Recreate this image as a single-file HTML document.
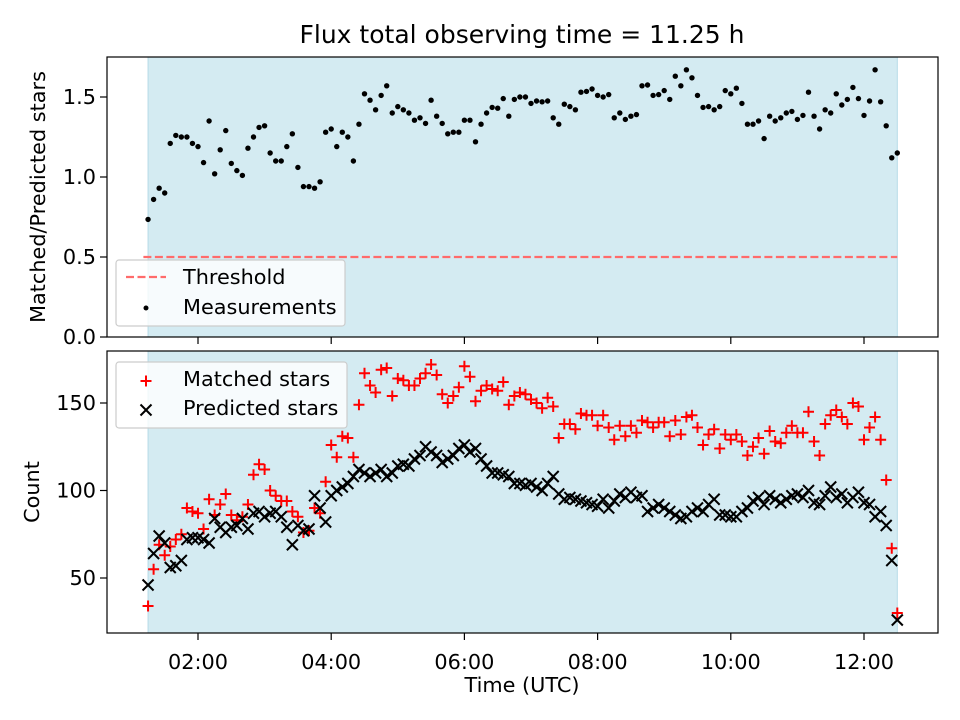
<!DOCTYPE html>
<html><head><meta charset="utf-8"><style>
body{margin:0;background:#fff;}
svg{display:block;font-family:"DejaVu Sans","Liberation Sans",sans-serif;}
</style></head><body>
<svg id="chart" width="960" height="720" viewBox="0 0 960 720" xmlns="http://www.w3.org/2000/svg">
<text x="522" y="43" font-size="25" text-anchor="middle">Flux total observing time = 11.25 h</text>
<g id="top"></g><g id="bot"></g>
</svg>
<script>
const ratioValues=[0.735,0.86,0.93,0.90,1.21,1.26,1.25,1.25,1.21,1.19,
1.09,1.35,1.02,1.17,1.29,1.085,1.04,1.01,1.18,1.25,
1.31,1.32,1.15,1.10,1.10,1.19,1.27,1.06,0.94,0.94,
0.93,0.97,1.28,1.30,1.19,1.28,1.25,1.10,1.33,1.52,
1.48,1.42,1.51,1.57,1.40,1.44,1.42,1.40,1.355,1.37,
1.335,1.48,1.38,1.335,1.27,1.28,1.28,1.355,1.355,1.22,
1.33,1.40,1.435,1.43,1.49,1.38,1.485,1.50,1.50,1.46,
1.475,1.47,1.475,1.37,1.33,1.455,1.44,1.42,1.53,1.535,
1.55,1.51,1.50,1.515,1.37,1.40,1.36,1.38,1.39,1.57,
1.575,1.51,1.515,1.54,1.485,1.63,1.57,1.67,1.62,1.51,
1.435,1.44,1.42,1.44,1.54,1.52,1.555,1.46,1.33,1.33,
1.35,1.24,1.38,1.35,1.37,1.40,1.41,1.36,1.385,1.53,
1.38,1.30,1.42,1.40,1.52,1.45,1.485,1.56,1.49,1.385,
1.475,1.67,1.47,1.32,1.12,1.15];
const predictedValues=[46,64,74,70,56,57,60,72,73,73,
72,70,84,79,76,79,80,84,78,87,
88,85,87,88,85,79,69,80,77,78,
97,90,82,97,100,102,104,108,112,110,
108,110,112,108,110,114,115,114,118,120,
125,122,120,116,118,120,124,126,122,124,
118,114,110,110,109,108,104,104,103,104,
102,100,104,108,98,95,96,95,94,93,
92,91,95,90,94,98,96,99,96,97,
88,90,92,90,88,86,84,85,88,90,
88,92,95,86,86,85,85,88,90,94,
96,92,97,95,93,95,97,98,96,100,
93,92,97,102,96,98,93,96,99,
93,92,85,88,80,60,26];
const matchedValues=[34,55,69,63,68,72,75,90,88,87,
78,95,86,92,98,86,83,85,92,109,
115,112,100,97,94,94,88,85,76,77,
90,87,105,126,119,131,130,119,149,167,
160,156,169,170,154,164,163,160,160,164,
167,172,166,155,150,154,159,171,165,151,
157,160,158,157,162,149,154,156,155,152,
150,147,153,148,130,138,138,135,144,143,
143,137,143,136,129,137,131,137,133,140,
139,136,139,139,131,140,132,142,143,136,
126,132,135,124,132,129,132,128,120,125,
130,121,134,128,127,133,137,133,133,145,
128,120,138,143,146,142,138,150,148,
129,136,142,129,106,67,30];
const startHour=1.25, stepHours=5/60;
const xTickHours=[2,4,6,8,10,12];
const xTickLabels=["02:00","04:00","06:00","08:00","10:00","12:00"];
const topTicks=[0,0.5,1.0,1.5], topTickLabels=["0.0","0.5","1.0","1.5"];
const botTicks=[50,100,150], botTickLabels=["50","100","150"];
const threshold=0.5, shadeStart=1.25, shadeEnd=12.5, thresholdStart=1.18;

const NS="http://www.w3.org/2000/svg";
const FS=20.8;
function mk(p,t,a){const e=document.createElementNS(NS,t);for(const k in a)e.setAttribute(k,a[k]);p.appendChild(e);return e;}
const L=107,R=938;
const xs=h=>64.8+h*66.6;
const yTop=v=>337-v*160;
const yBot=v=>578-(v-50)*1.75;
const times=ratioValues.map((_,i)=>startHour+i*stepHours);

function axes(g,top,bottom,ticks,labels,ys,name,showX){
  let r=mk(g,'rect',{x:xs(shadeStart),y:top,width:xs(shadeEnd)-xs(shadeStart),height:bottom-top,fill:'#d4ebf2',stroke:'#b5dbe7','stroke-width':1});
  
  ticks.forEach((t,i)=>{const y=ys(t);
    mk(g,'line',{x1:L-7,x2:L,y1:y,y2:y,stroke:'#000','stroke-width':1.2});
    let tx=mk(g,'text',{x:L-11,y:y+7,'font-size':FS,'text-anchor':'end'});tx.textContent=labels[i];
    });
  xTickHours.forEach((h,i)=>{const x=xs(h);
    mk(g,'line',{x1:x,x2:x,y1:bottom,y2:bottom+7,stroke:'#000','stroke-width':1.2});
    if(showX){let tx=mk(g,'text',{x:x,y:bottom+36,'font-size':FS,'text-anchor':'middle'});tx.textContent=xTickLabels[i];
    }});
}
function frame(g,top,bottom,name){let f=mk(g,'rect',{x:L,y:top,width:R-L,height:bottom-top,fill:'none',stroke:'#000','stroke-width':1.2});
 }

// top panel
const gt=document.getElementById('top');
axes(gt,57,337,topTicks,topTickLabels,yTop,'ratio',false);
let th=mk(gt,'line',{x1:xs(thresholdStart),x2:xs(shadeEnd),y1:yTop(threshold),y2:yTop(threshold),stroke:'#ff6b6b','stroke-width':2.2,'stroke-dasharray':'8,3.5'});

ratioValues.forEach((v,i)=>{let c=mk(gt,'circle',{cx:xs(times[i]),cy:yTop(v),r:2.7,fill:'#000'});
 });
frame(gt,57,337,'ratio');
let yl1=mk(gt,'text',{x:45,y:197,'font-size':FS,'text-anchor':'middle',transform:'rotate(-90 45 197)'});yl1.textContent='Matched/Predicted stars';

// top legend
let lg=mk(gt,'g',{});
mk(lg,'rect',{x:116,y:260,width:229,height:66,rx:3,fill:'rgba(255,255,255,0.8)',stroke:'#ccc','stroke-width':1.2});
mk(lg,'line',{x1:126,x2:166,y1:277,y2:277,stroke:'#ff6b6b','stroke-width':2.2,'stroke-dasharray':'8,3.5'});
let t1=mk(lg,'text',{x:183,y:284,'font-size':FS});t1.textContent='Threshold';

mk(lg,'circle',{cx:146,cy:308,r:2.5,fill:'#000'});
let t2=mk(lg,'text',{x:183,y:314,'font-size':FS});t2.textContent='Measurements';


// bottom panel
const gb=document.getElementById('bot');
axes(gb,351,633,botTicks,botTickLabels,yBot,'count',true);
function plus(g,x,y,s){return mk(g,'path',{d:`M${x-s} ${y}H${x+s}M${x} ${y-s}V${y+s}`,stroke:'#f00','stroke-width':2,fill:'none'});}
function cross(g,x,y,s){return mk(g,'path',{d:`M${x-s} ${y-s}L${x+s} ${y+s}M${x-s} ${y+s}L${x+s} ${y-s}`,stroke:'#000','stroke-width':2,fill:'none'});}
matchedValues.forEach((v,i)=>{let p=plus(gb,xs(times[i]),yBot(v),5.5);
 });
predictedValues.forEach((v,i)=>{let p=cross(gb,xs(times[i]),yBot(v),5.5);
 });
frame(gb,351,633,'count');
let yl2=mk(gb,'text',{x:39,y:492,'font-size':FS,'text-anchor':'middle',transform:'rotate(-90 39 492)'});yl2.textContent='Count';

let xl=mk(gb,'text',{x:522,y:692,'font-size':FS,'text-anchor':'middle'});xl.textContent='Time (UTC)';

let lb=mk(gb,'g',{});
mk(lb,'rect',{x:116,y:362,width:231,height:66,rx:3,fill:'rgba(255,255,255,0.8)',stroke:'#ccc','stroke-width':1.2});
plus(lb,146,381,5.5);
let t3=mk(lb,'text',{x:183,y:386,'font-size':FS});t3.textContent='Matched stars';

cross(lb,146,410,5.5);
let t4=mk(lb,'text',{x:183,y:415,'font-size':FS});t4.textContent='Predicted stars';

</script>
</body></html>
